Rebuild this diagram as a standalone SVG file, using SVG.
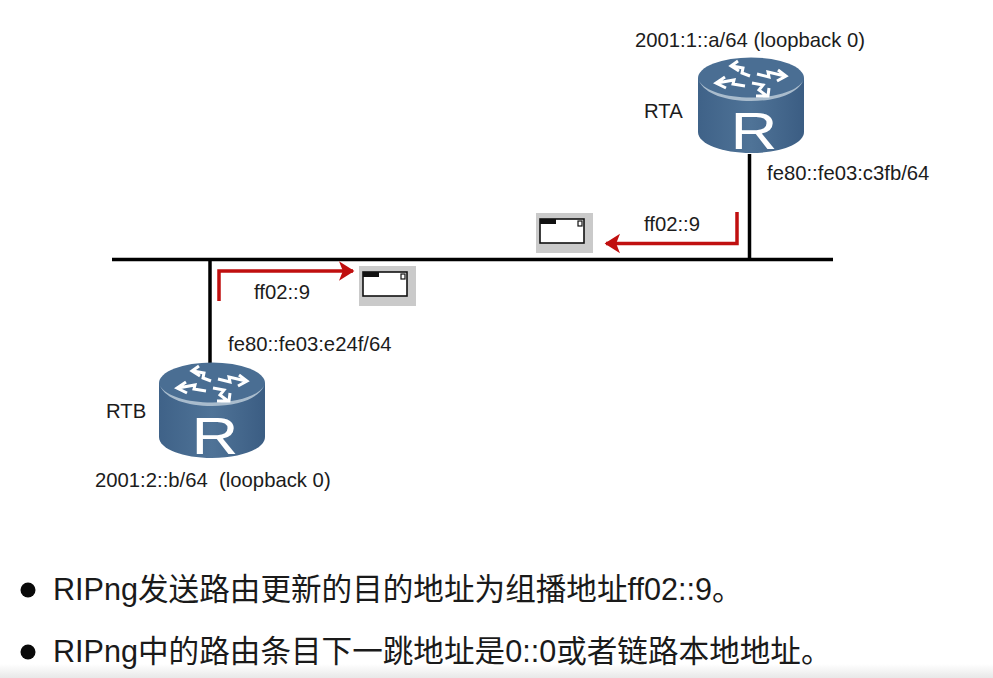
<svg xmlns="http://www.w3.org/2000/svg" width="993" height="678" viewBox="0 0 993 678">
<style>
.t{font-family:"Liberation Sans",Arial,sans-serif;font-size:20.3px;fill:#1c1c1c}
.b{font-family:"Liberation Sans","Noto Sans CJK SC",sans-serif;font-size:30.6px;fill:#1a1a1a}
.net{stroke:#000;stroke-width:3.5;fill:none}
.red{stroke:#c00f0f;stroke-width:3.5;fill:none;stroke-linejoin:miter}
.pk{fill:#fff;stroke:#111;stroke-width:1.6}
</style>
<defs>
<linearGradient id="body" x1="0" x2="1" y1="0" y2="0">
<stop offset="0" stop-color="#3f6288"/><stop offset=".5" stop-color="#4f7397"/><stop offset="1" stop-color="#3b5d83"/>
</linearGradient>
<linearGradient id="foot" x1="0" x2="0" y1="0" y2="1">
<stop offset="0" stop-color="#fff"/><stop offset="1" stop-color="#e8e8e8"/>
</linearGradient>
<marker id="ah" markerWidth="6" markerHeight="6" refX="4.2" refY="3" orient="auto" markerUnits="strokeWidth">
<path d="M0.2 0.2L4.6 3L0.2 5.8L1.3 3Z" fill="#c00f0f"/>
</marker>
<g id="router">
<path d="M-53 20V74C-53 86-29 95 0 95S53 86 53 74V20Z" fill="url(#body)"/>
<ellipse cx="0" cy="20" rx="53" ry="20.500" fill="#4a6e93"/>
<path d="M-52 23C-46 36-25 43 0 43S46 36 52 23C46 33 25 39.500 0 39.500S-46 33-52 23Z" fill="#a9bccd"/>
<g fill="none" stroke="#fff" stroke-width="3" stroke-linejoin="miter" stroke-linecap="butt">
<path d="M-1 18L-9 15L-8 10L-19 8M-13 3L-20 8L-12 13"/>
<path d="M6 16L18 19L17 14L34 18M27 12L35 18L26 23"/>
<path d="M-6 28L-18 26L-17 22L-34 25M-26 19L-35 25L-25 30"/>
<path d="M1 25L12 27L8 32L16 38M5 38L17 38L18 30"/>
</g>
<text x="0" y="0" text-anchor="middle" transform="translate(3 91) scale(1.25 1)" style="font-family:'Liberation Sans',Arial,sans-serif;font-size:52px;fill:#fff">R</text>
</g>
<g id="packet">
<rect x="0" y="0" width="57" height="40" fill="#cacaca"/>
<rect class="pk" x="4" y="6" width="44" height="24"/>
<rect x="4" y="6" width="16" height="5" fill="#111"/>
<rect x="42" y="8" width="4" height="5" fill="#fff" stroke="#111" stroke-width="1.200"/>
</g>
</defs>
<rect width="993" height="678" fill="#fff"/>
<rect y="664" width="993" height="14" fill="url(#foot)"/>
<g id="connectors">
<path class="net" d="M112 259.500H833"/>
<path class="net" d="M749.500 154V259"/>
<path class="net" d="M210 259V364"/>
<path class="red" marker-end="url(#ah)" d="M737 212V243.500H606"/>
<path class="red" marker-end="url(#ah)" d="M219 301V271H353"/>
</g>
<g id="RTA">
<use href="#router" x="751" y="58"/>
<text class="t" x="644" y="118">RTA</text>
<text class="t" x="635" y="47">2001:1::a/64 (loopback 0)</text>
<text class="t" x="767" y="180">fe80::fe03:c3fb/64</text>
</g>
<g id="RTB">
<use href="#router" x="212" y="363"/>
<text class="t" x="106" y="418">RTB</text>
<text class="t" x="95" y="487" xml:space="preserve">2001:2::b/64  (loopback 0)</text>
<text class="t" x="228" y="351">fe80::fe03:e24f/64</text>
</g>
<g id="packet-a">
<use href="#packet" x="536" y="213"/>
<text class="t" x="644" y="231">ff02::9</text>
</g>
<g id="packet-b">
<use href="#packet" x="359" y="266"/>
<text class="t" x="254" y="299">ff02::9</text>
</g>
<g id="notes">
<circle cx="28" cy="590" r="7.500" fill="#0a0a0a"/>
<text class="b" x="53" y="600">RIPng发送路由更新的目的地址为组播地址ff02::9。</text>
<circle cx="28" cy="652" r="7.500" fill="#0a0a0a"/>
<text class="b" x="53" y="662">RIPng中的路由条目下一跳地址是0::0或者链路本地地址。</text>
</g>
</svg>
